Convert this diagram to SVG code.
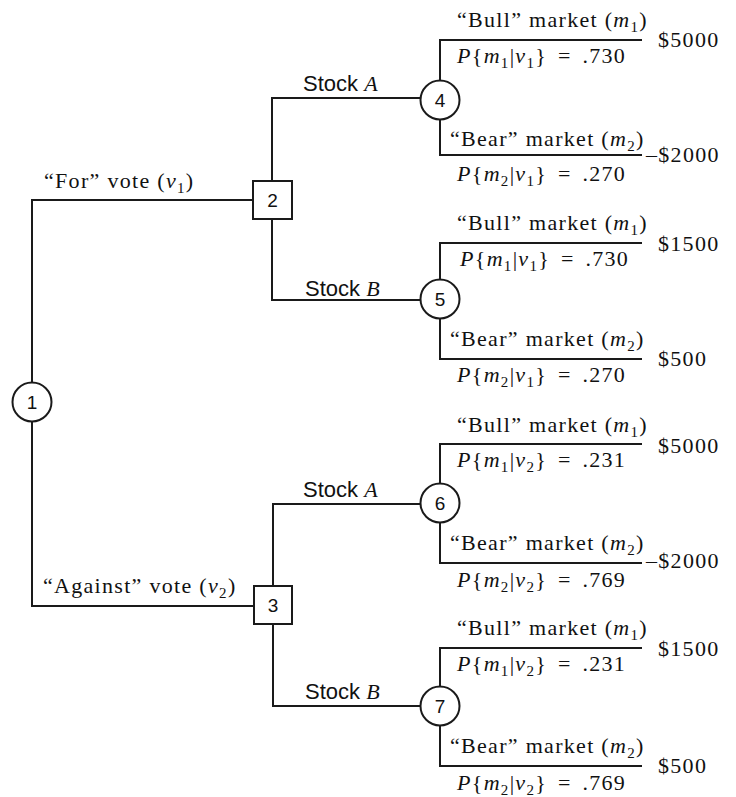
<svg xmlns="http://www.w3.org/2000/svg" width="736" height="797" viewBox="0 0 736 797">
<style>
.ln{fill:none;stroke:#1a1a1a;stroke-width:2}
.nd{fill:#fff;stroke:#1a1a1a;stroke-width:2}
.t{font-family:"Liberation Serif","Times New Roman",serif;font-size:22px;fill:#111;letter-spacing:1.3px}
.p{word-spacing:4px}
.s{font-family:"Liberation Sans",Arial,sans-serif;font-size:22px;fill:#111}
.n{font-family:"Liberation Sans",Arial,sans-serif;font-size:19px;fill:#111;text-anchor:middle}
.i{font-style:italic}
.ti{font-family:"Liberation Serif","Times New Roman",serif;font-style:italic}
.sb{font-size:15px}
</style>
<rect width="736" height="797" fill="#fff"/>
<g id="connectors">
<path class="ln" d="M32,382 V200 H253"/>
<path class="ln" d="M32,421 V606 H254" stroke-width="1.5"/>
<path class="ln" d="M272,181 V98 H420"/>
<path class="ln" d="M272,219 V300 H420"/>
<path class="ln" d="M273,586 V504 H420"/>
<path class="ln" d="M273,624 V706 H420" stroke-width="1.5"/>
<path class="ln" d="M440,80 V40 H642"/>
<path class="ln" d="M440,120 V155 H642"/>
<path class="ln" d="M440,279 V243 H642"/>
<path class="ln" d="M440,319 V359 H642"/>
<path class="ln" d="M440,483 V444 H642"/>
<path class="ln" d="M440,523 V563 H642"/>
<path class="ln" d="M440,686 V648 H642"/>
<path class="ln" d="M440,726 V766 H642"/>
</g>
<g id="node1"><circle class="nd" cx="32" cy="402" r="19.5"/><text class="n" x="32" y="409" font-family="Liberation Serif, serif" font-size="21">1</text></g>
<g id="node2"><rect class="nd" x="253" y="181" width="39" height="38"/><text class="n" x="272.5" y="207">2</text></g>
<g id="node3"><rect class="nd" x="254" y="586" width="38" height="38"/><text class="n" x="273" y="612">3</text></g>
<g id="node4"><circle class="nd" cx="440" cy="100" r="19.5"/><text class="n" x="440" y="107">4</text></g>
<g id="node5"><circle class="nd" cx="440" cy="299" r="19.5"/><text class="n" x="440" y="306">5</text></g>
<g id="node6"><circle class="nd" cx="440" cy="503" r="19.5"/><text class="n" x="440" y="510">6</text></g>
<g id="node7"><circle class="nd" cx="440" cy="706" r="19.5"/><text class="n" x="440" y="713">7</text></g>
<g id="labels">
<text class="t" x="44" y="188">“For” vote (<tspan class="i">v</tspan><tspan class="sb" dy="5">1</tspan><tspan dy="-5">)</tspan></text>
<text class="t" x="43" y="593">“Against” vote (<tspan class="i">v</tspan><tspan class="sb" dy="5">2</tspan><tspan dy="-5">)</tspan></text>
<text class="s" x="303" y="91">Stock <tspan class="ti">A</tspan></text>
<text class="s" x="305" y="296">Stock <tspan class="ti">B</tspan></text>
<text class="s" x="303" y="497">Stock <tspan class="ti">A</tspan></text>
<text class="s" x="305" y="699">Stock <tspan class="ti">B</tspan></text>

<text class="t" x="457" y="27">“Bull” market (<tspan class="i">m</tspan><tspan class="sb" dy="5">1</tspan><tspan dy="-5">)</tspan></text>
<text class="t p" x="457" y="63"><tspan class="i">P</tspan>{<tspan class="i">m</tspan><tspan class="sb" dy="5">1</tspan><tspan dy="-5">|</tspan><tspan class="i">v</tspan><tspan class="sb" dy="5">1</tspan><tspan dy="-5">} = .730</tspan></text>
<text class="t" x="658" y="47">$5000</text>
<text class="t" x="450" y="146">“Bear” market (<tspan class="i">m</tspan><tspan class="sb" dy="5">2</tspan><tspan dy="-5">)</tspan></text>
<text class="t p" x="457" y="181"><tspan class="i">P</tspan>{<tspan class="i">m</tspan><tspan class="sb" dy="5">2</tspan><tspan dy="-5">|</tspan><tspan class="i">v</tspan><tspan class="sb" dy="5">1</tspan><tspan dy="-5">} = .270</tspan></text>
<text class="t" x="646" y="162">–$2000</text>

<text class="t" x="457" y="230">“Bull” market (<tspan class="i">m</tspan><tspan class="sb" dy="5">1</tspan><tspan dy="-5">)</tspan></text>
<text class="t p" x="460" y="266"><tspan class="i">P</tspan>{<tspan class="i">m</tspan><tspan class="sb" dy="5">1</tspan><tspan dy="-5">|</tspan><tspan class="i">v</tspan><tspan class="sb" dy="5">1</tspan><tspan dy="-5">} = .730</tspan></text>
<text class="t" x="658" y="251">$1500</text>
<text class="t" x="450" y="346">“Bear” market (<tspan class="i">m</tspan><tspan class="sb" dy="5">2</tspan><tspan dy="-5">)</tspan></text>
<text class="t p" x="457" y="382"><tspan class="i">P</tspan>{<tspan class="i">m</tspan><tspan class="sb" dy="5">2</tspan><tspan dy="-5">|</tspan><tspan class="i">v</tspan><tspan class="sb" dy="5">1</tspan><tspan dy="-5">} = .270</tspan></text>
<text class="t" x="658" y="366">$500</text>

<text class="t" x="457" y="432">“Bull” market (<tspan class="i">m</tspan><tspan class="sb" dy="5">1</tspan><tspan dy="-5">)</tspan></text>
<text class="t p" x="457" y="467"><tspan class="i">P</tspan>{<tspan class="i">m</tspan><tspan class="sb" dy="5">1</tspan><tspan dy="-5">|</tspan><tspan class="i">v</tspan><tspan class="sb" dy="5">2</tspan><tspan dy="-5">} = .231</tspan></text>
<text class="t" x="658" y="453">$5000</text>
<text class="t" x="450" y="550">“Bear” market (<tspan class="i">m</tspan><tspan class="sb" dy="5">2</tspan><tspan dy="-5">)</tspan></text>
<text class="t p" x="457" y="587"><tspan class="i">P</tspan>{<tspan class="i">m</tspan><tspan class="sb" dy="5">2</tspan><tspan dy="-5">|</tspan><tspan class="i">v</tspan><tspan class="sb" dy="5">2</tspan><tspan dy="-5">} = .769</tspan></text>
<text class="t" x="646" y="568">–$2000</text>

<text class="t" x="457" y="635">“Bull” market (<tspan class="i">m</tspan><tspan class="sb" dy="5">1</tspan><tspan dy="-5">)</tspan></text>
<text class="t p" x="457" y="671"><tspan class="i">P</tspan>{<tspan class="i">m</tspan><tspan class="sb" dy="5">1</tspan><tspan dy="-5">|</tspan><tspan class="i">v</tspan><tspan class="sb" dy="5">2</tspan><tspan dy="-5">} = .231</tspan></text>
<text class="t" x="658" y="656">$1500</text>
<text class="t" x="450" y="753">“Bear” market (<tspan class="i">m</tspan><tspan class="sb" dy="5">2</tspan><tspan dy="-5">)</tspan></text>
<text class="t p" x="457" y="790"><tspan class="i">P</tspan>{<tspan class="i">m</tspan><tspan class="sb" dy="5">2</tspan><tspan dy="-5">|</tspan><tspan class="i">v</tspan><tspan class="sb" dy="5">2</tspan><tspan dy="-5">} = .769</tspan></text>
<text class="t" x="658" y="773">$500</text>
</g>
</svg>
